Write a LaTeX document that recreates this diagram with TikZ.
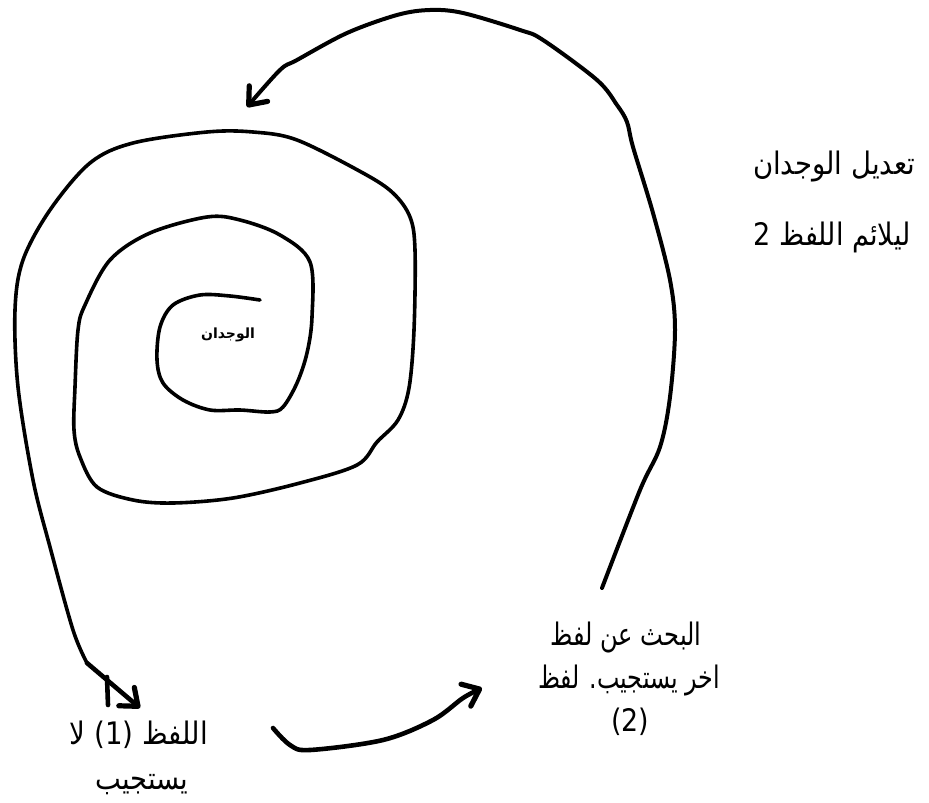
\documentclass[tikz,border=0pt]{standalone}
\usepackage{fontspec}
\usepackage{graphicx}
\usetikzlibrary{arrows.meta}
\newfontfamily\arabicfont[Script=Arabic]{DejaVu Sans}
\TeXXeTstate=1
\newcommand\fitw[2]{\resizebox{#1}{\height}{#2}}
\tikzset{
  curve/.style={line width=3.6pt, line cap=round, line join=round},
  barb/.style={-{Straight Barb[length=15pt,width=24pt,round,line width=5.2pt]}},
  hand/.style={line width=4.6pt, line cap=round, line join=round, barb},
  lbl/.style={font=\arabicfont\fontsize{31}{36}\selectfont, inner sep=0pt},
  core/.style={font=\arabicfont\bfseries\fontsize{14}{16}\selectfont, inner sep=0pt},
}
\begin{document}
\begin{tikzpicture}[x=1pt,y=-1pt]
\useasboundingbox (0,0) rectangle (929,803);

% spiral
\coordinate (sstart) at (260,300);
\coordinate (send) at (87,663);
\draw[curve] plot[smooth, tension=0.55] coordinates {
  (260,300) (230,296) (200,295) (173,305) (160,327) (157,360) (163,383) (183,400)
  (210,410) (240,410) (270,412) (283,407) (297,383) (307,353) (312,317) (310,262)
  (280,235) (240,220) (207,217) (150,233) (110,260) (85,305) (78,330) (75,387)
  (74,430) (80,457) (97,487) (133,500) (173,503) (233,498) (300,483) (357,465)
  (377,442) (398,420) (409,388) (414,330) (415,250) (410,217) (393,193) (363,173)
  (297,140) (253,132) (207,132) (133,143) (90,163) (50,210) (23,260) (15,310)
  (18,387) (33,480) (50,547) (73,630) (87,663)};

% arrow at end of spiral
\coordinate (tip1) at (140,708);
\coordinate (barA) at (107,677);
\coordinate (barB) at (108,705);
\draw[hand] (send) -- (tip1);
\draw[line width=4.6pt, line cap=round] (barA) -- (barB);

% big arc back to the spiral
\coordinate (arcstart) at (602,588);
\coordinate (tip2) at (247,107);
\draw[curve, line width=4pt, barb] plot[smooth, tension=0.55] coordinates {
  (602,588) (640,490) (660,447) (670,397) (675,330) (670,280) (653,213) (633,147)
  (627,122) (617,105) (597,80) (543,40) (520,30) (463,13) (430,10) (397,15)
  (347,33) (297,60) (280,70) (247,107)};

% bottom arrow
\coordinate (bstart) at (273,728);
\coordinate (tip3) at (482,688);
\draw[hand] plot[smooth, tension=0.55] coordinates {
  (273,728) (290,745) (310,750) (383,740) (433,720) (463,698) (482,688)};

% texts
\node[core] (c) at (228,335) {\beginR الوجدان\endR};
\node[lbl] (t1) at (834,167) {\fitw{162pt}{\beginR تعديل الوجدان\endR}};
\node[lbl] (t2) at (832,237) {\fitw{157pt}{\beginR ليلائم اللفظ 2\endR}};
\node[lbl] (b1) at (626,637) {\fitw{151pt}{\beginR البحث عن لفظ\endR}};
\node[lbl] (b2) at (629,680) {\fitw{182pt}{\beginR اخر يستجيب. لفظ\endR}};
\node[lbl] (b3) at (630,722) {\fitw{38pt}{(2)}};
\node[lbl] (l1) at (139,735) {\fitw{138pt}{\beginR اللفظ \beginL(1)\endL{} لا\endR}};
\node[lbl] (l2) at (142,785) {\fitw{93pt}{\beginR يستجيب\endR}};
\end{tikzpicture}
\end{document}
